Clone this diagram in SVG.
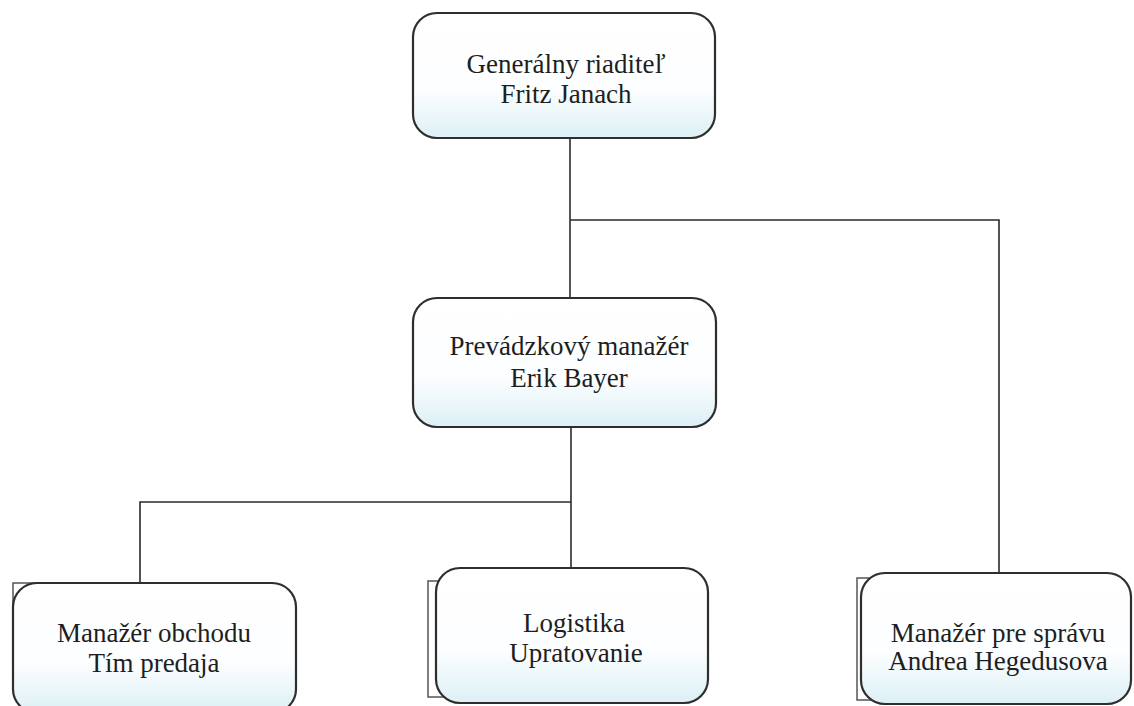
<svg xmlns="http://www.w3.org/2000/svg" width="1134" height="706" viewBox="0 0 1134 706">
<defs>
<linearGradient id="g" x1="0" y1="0" x2="0" y2="1">
<stop offset="0" stop-color="#ffffff"/>
<stop offset="0.6" stop-color="#fdfeff"/>
<stop offset="1" stop-color="#dcf0f5"/>
</linearGradient>
</defs>
<style>
.box{fill:url(#g);stroke:#2e2e2e;stroke-width:2.2}
.back{fill:#fff;stroke:#555;stroke-width:1.5}
.t{font-family:"Liberation Serif","Times New Roman",serif;font-size:27px;fill:#1e1e1e;text-anchor:middle}
.c{fill:none;stroke:#2a2a2a;stroke-width:1.6}
</style>
<rect width="1134" height="706" fill="#fff"/>
<g id="connectors">
<path class="c" d="M570 138 V298"/>
<path class="c" d="M570 220 H999 V574"/>
<path class="c" d="M571 427 V569"/>
<path class="c" d="M571 502 H140 V584"/>
</g>
<g id="node-ceo">
<rect class="box" x="413" y="13" width="302" height="125" rx="24"/>
<text class="t" x="566" y="73">Generálny riaditeľ</text>
<text class="t" x="566" y="103">Fritz Janach</text>
</g>
<g id="node-ops">
<rect class="box" x="413" y="298" width="303" height="129" rx="24"/>
<text class="t" x="569" y="355">Prevádzkový manažér</text>
<text class="t" x="569" y="387">Erik Bayer</text>
</g>
<g id="node-sales">
<path class="back" d="M40 583 H13 V610"/>
<rect class="box" x="13" y="583" width="283" height="130" rx="24"/>
<text class="t" x="154" y="642">Manažér obchodu</text>
<text class="t" x="154" y="672">Tím predaja</text>
</g>
<g id="node-logistics">
<rect class="back" x="428" y="581" width="40" height="116"/>
<rect class="box" x="436" y="568" width="272" height="135" rx="24"/>
<text class="t" x="574" y="632">Logistika</text>
<text class="t" x="576" y="662">Upratovanie</text>
</g>
<g id="node-admin">
<rect class="back" x="857" y="578" width="40" height="122"/>
<rect class="box" x="861" y="573" width="270" height="131" rx="24"/>
<text class="t" x="998" y="642">Manažér pre správu</text>
<text class="t" x="998" y="670">Andrea Hegedusova</text>
</g>
</svg>
